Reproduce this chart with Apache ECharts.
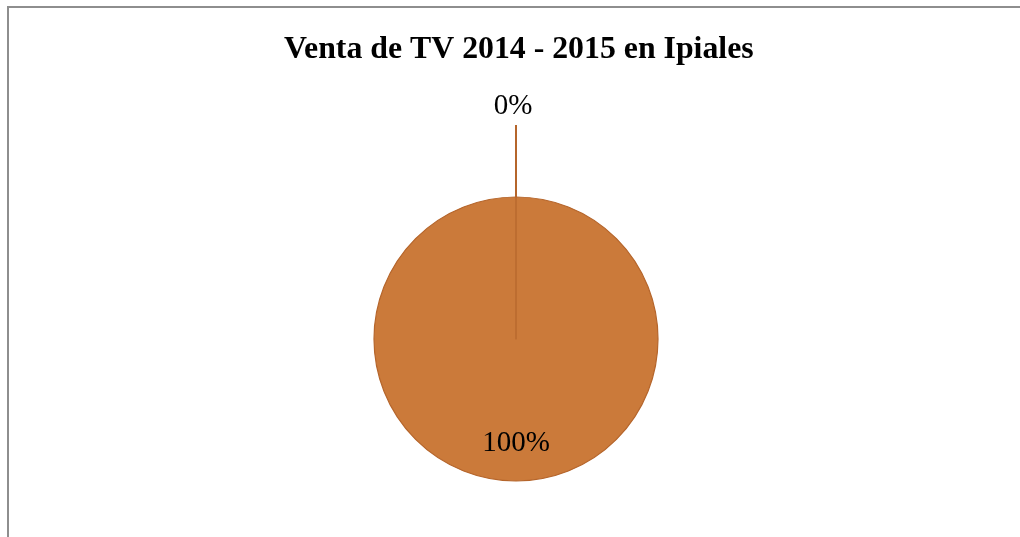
<!DOCTYPE html>
<html>
<head>
<meta charset="utf-8">
<script src="https://cdn.jsdelivr.net/npm/echarts@6/dist/echarts.min.js"></script>
<style>
html,body{margin:0;padding:0;background:#fff;overflow:hidden;}
#frame{position:absolute;left:7px;top:6px;width:1100px;height:600px;border-left:2px solid #8e8e8e;border-top:2px solid #8e8e8e;}
#chart{position:absolute;left:0;top:0;width:1020px;height:537px;}
</style>
</head>
<body>
<div id="frame"></div>
<div id="chart"></div>
<script>
const titleText = 'Venta de TV 2014 - 2015 en Ipiales';
const categories = ['Venta A', 'Venta B'];
const values = [100, 0];

const chart = echarts.init(document.getElementById('chart'), null, {renderer: 'canvas'});
const sliceColor = '#CB7A3A';
const data = categories.map((c, i) => ({
  name: c,
  value: values[i],
  label: i === 0
    ? {position: 'inside', offset: [0, 30]}
    : {position: 'outside'}
}));

chart.setOption({
  backgroundColor: 'transparent',
  animation: false,
  title: {
    text: titleText,
    left: 279,
    top: 29,
    textStyle: {fontFamily: 'Liberation Serif', fontWeight: 'bold', fontSize: 31.8, color: '#000'}
  },
  series: [{
    type: 'pie',
    center: [516, 339],
    radius: 142,
    startAngle: 90,
    clockwise: true,
    avoidLabelOverlap: false,
    data: data,
    itemStyle: {color: sliceColor, borderColor: '#B5652B', borderWidth: 1.2},
    label: {
      show: true,
      formatter: function(p){ return Math.round(p.percent) + '%'; },
      fontFamily: 'Liberation Serif',
      fontSize: 29,
      color: '#000'
    },
    labelLine: {show: true, length: 72, length2: 0, lineStyle: {color: '#B5652B', width: 2}},
    labelLayout: function(params){
      if (params.dataIndex === 1) {
        return {align: 'center', verticalAlign: 'bottom', dx: -8, dy: -4};
      }
      return {};
    }
  }]
});
</script>
</body>
</html>
